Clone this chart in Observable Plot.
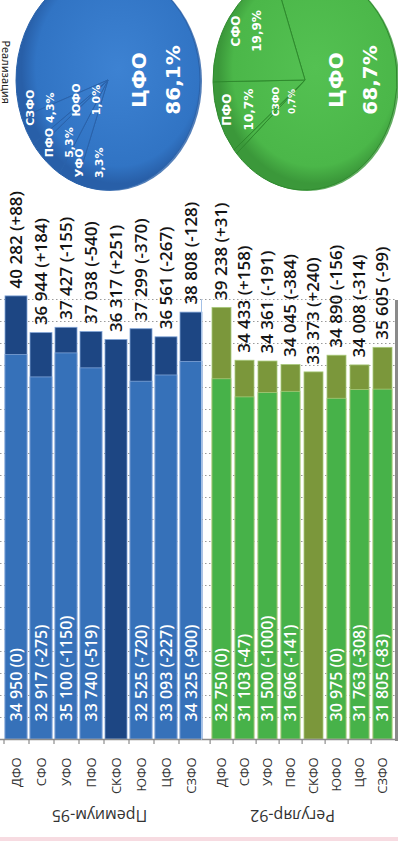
<!DOCTYPE html>
<html><head><meta charset="utf-8">
<script src="https://cdn.jsdelivr.net/npm/d3@7"></script>
<script src="https://cdn.jsdelivr.net/npm/@observablehq/plot@0.6"></script>
<style>
html,body{margin:0;padding:0;background:#fff;}
#root{position:relative;width:398px;height:841px;overflow:hidden;background:#fff;font-family:"Open Sans",sans-serif;}
#root svg{position:absolute;overflow:visible;}
.deco{position:absolute;}
</style></head><body><div id="root"></div>
<script>
// ---------- data ----------
const regions = ["ДФО","СФО","УФО","ПФО","СКФО","ЮФО","ЦФО","СЗФО"];
const premRetail    = [40282, 36944, 37427, 37038, 36317, 37299, 36561, 38808];
const premRetailChg = [88, 184, -155, -540, 251, -370, -267, -128];
const premWhole     = [34950, 32917, 35100, 33740, null, 32525, 33093, 34325];
const premWholeChg  = [0, -275, -1150, -519, null, -720, -227, -900];
const regRetail     = [39238, 34433, 34361, 34045, 33373, 34890, 34008, 35605];
const regRetailChg  = [31, 158, -191, -384, 240, -156, -314, -99];
const regWhole      = [32750, 31103, 31500, 31606, null, 30975, 31763, 31805];
const regWholeChg   = [0, -47, -1000, -141, null, 0, -308, -83];
const groupTitles   = ["Премиум-95", "Регуляр-92"];
const gridTicks     = [2000,4000,6000,8000,10000,12000,14000,16000,18000,20000,22000,24000,26000,28000,30000,32000,34000,36000,38000,40000];
const pieTitle      = "Реализация";
const pieBlueNames  = ["ЦФО","УФО","ПФО","ЮФО","СЗФО"];
const pieBlueShares = [86.1, 3.3, 5.3, 1.0, 4.3];
const pieGreenNames = ["ЦФО","СЗФО","ПФО","СФО"];
const pieGreenShares= [68.7, 0.7, 10.7, 19.9];

// ---------- helpers ----------
const fmtNum = v => d3.format(",")(v).replace(/,/g, " ");
const fmtChg = c => c > 0 ? "+" + c : c < 0 ? "-" + Math.abs(c) : "0";
const fmtPct = v => d3.format(".1f")(v).replace(".", ",") + "%";
const root = document.getElementById("root");
function place(el, left, top) { el.style.left = left + "px"; el.style.top = top + "px"; root.appendChild(el); }
function deco(left, top, w, h, color) {
  const d = document.createElement("div"); d.className = "deco";
  Object.assign(d.style, {left: left+"px", top: top+"px", width: w+"px", height: h+"px", background: color});
  root.appendChild(d);
}

// ---------- pies ----------
const pies = [
  {key: "blue", names: pieBlueNames, shares: pieBlueShares, cx: 108, cy: 80, rx: 92, ry: 110, start: 250,
   base: "#3174c4", light: "#3d82d2", dark: "#285fa8", line: "#2a62aa", smallSize: 11},
  {key: "green", names: pieGreenNames, shares: pieGreenShares, cx: 305, cy: 80, rx: 92, ry: 110, start: 340.7,
   base: "#4bb749", light: "#54c152", dark: "#3b983a", line: "#2f8a2e", smallSize: 12}
];
const pieArcs = pies.map(p => {
  const a0 = p.start * Math.PI / 180;
  const arcs = d3.pie().sort(null).value(d => d.share).startAngle(a0).endAngle(a0 + 2 * Math.PI)
    (p.names.map((n, i) => ({name: n, share: p.shares[i]})));
  return {p, arcs};
});

// spread crowded outer-ring labels so they keep a minimum angular gap
function spread(items, minGap) {
  items.sort((a, b) => a.ang - b.ang);
  for (let it = 0; it < 200; it++) {
    let moved = false;
    for (let i = 1; i < items.length; i++) {
      const gap = items[i].ang - items[i - 1].ang;
      if (gap < minGap - 1e-6) {
        const push = (minGap - gap) / 2;
        items[i - 1].ang -= push; items[i].ang += push; moved = true;
      }
    }
    if (!moved) break;
  }
}

const pieLabels = [];
pieArcs.forEach(({p, arcs}) => {
  const outer = [];
  arcs.forEach(a => {
    const share = a.data.share;
    const big = share > 50;
    const lab = {
      p, share,
      ang: big ? Math.PI / 2 : (a.startAngle + a.endAngle) / 2,   // dominant slice labelled right of centre
      f: big ? 0.52 : share < 2 ? 0.3 : 0.78,
      lines: [a.data.name, fmtPct(share)],
      size: big ? 20 : share < 1 ? 9 : p.smallSize,
      lh: big ? 1.7 : 1.8
    };
    if (!big && share >= 2) outer.push(lab);
    pieLabels.push(lab);
  });
  spread(outer, 28 * Math.PI / 180);
});
pieLabels.forEach(l => {
  l.px = l.p.cx + l.f * l.p.rx * Math.sin(l.ang);
  l.py = l.p.cy - l.f * l.p.ry * Math.cos(l.ang);
});

function pieMark(index, scales) {
  const g = d3.create("svg:g");
  const sx = scales && typeof scales.x === "function" ? scales.x : (v => v);
  const sy = scales && typeof scales.y === "function" ? scales.y : (v => v);
  const defs = g.append("defs");
  pieArcs.forEach(({p, arcs}) => {
    const cx = sx(p.cx), cy = sy(p.cy), k = p.ry / p.rx;
    const id = "pg-" + p.key;
    const rg = defs.append("radialGradient").attr("id", id).attr("gradientUnits", "userSpaceOnUse")
      .attr("cx", 10).attr("cy", -10).attr("r", p.rx * 1.05);
    rg.append("stop").attr("offset", "0%").attr("stop-color", p.light);
    rg.append("stop").attr("offset", "85%").attr("stop-color", p.base);
    rg.append("stop").attr("offset", "100%").attr("stop-color", p.dark);
    g.append("ellipse").attr("cx", cx + 2).attr("cy", cy + 1).attr("rx", p.rx).attr("ry", p.ry)
      .attr("fill", p.dark).attr("opacity", 0.8);
    const gg = g.append("g").attr("transform", `translate(${cx},${cy}) scale(1,${k})`);
    const arc = d3.arc().innerRadius(0).outerRadius(p.rx);
    gg.selectAll("path").data(arcs).join("path")
      .attr("d", arc).attr("fill", `url(#${id})`)
      .attr("stroke", p.line).attr("stroke-width", 1).attr("vector-effect", "non-scaling-stroke");
  });
  pieLabels.forEach(l => {
    const t = g.append("text")
      .attr("transform", `translate(${sx(l.px)},${sy(l.py)}) rotate(-90)`)
      .attr("text-anchor", "middle").attr("fill", "white")
      .attr("font-family", "DejaVu Sans").attr("font-weight", "bold").attr("font-size", l.size);
    l.lines.forEach((s, i) => t.append("tspan").attr("x", 0)
      .attr("y", ((i - (l.lines.length - 1) / 2) * l.lh + 0.35) + "em").text(s));
  });
  return g.node();
}

const piePlot = Plot.plot({
  width: 398, height: 200, margin: 0,
  style: {background: "none", overflow: "visible"},
  x: {domain: [0, 398], range: [0, 398], axis: null},
  y: {domain: [0, 200], range: [0, 200], axis: null},
  marks: [
    Plot.dot(pieLabels, {x: "px", y: "py", r: 0, stroke: "none"}),
    pieMark,
    Plot.text([pieTitle], {frameAnchor: "top-left", rotate: 90, textAnchor: "start", dx: 9.5, dy: 40,
      fill: "#222", fontSize: 11})
  ]
});
place(piePlot, 0, 0);

// ---------- bar panels ----------
function panel(retail, retailChg, whole, wholeChg, title, c, geom) {
  const data = regions.map((region, i) => ({region, retail: retail[i], rChg: retailChg[i], whole: whole[i], wChg: wholeChg[i]}));
  const withWhole = data.filter(d => d.whole != null);
  const step = (geom.range[1] - geom.range[0]) / regions.length;
  return Plot.plot({
    width: geom.width, height: 660, margin: 0,
    style: {background: "none", overflow: "visible", fontFamily: "Open Sans"},
    x: {domain: regions, range: geom.range, paddingInner: geom.pad, paddingOuter: geom.pad / 2, axis: null},
    y: {domain: [0, 40000], range: [559, 119], axis: null},
    marks: [
      Plot.ruleY(gridTicks, {stroke: "#9a9a9a", strokeDasharray: "1.5,2.5", strokeWidth: 1.2}),
      Plot.barY(data, {x: "region", y: "retail", fill: c.dark, stroke: c.edge, strokeWidth: 0.8}),
      Plot.barY(withWhole, {x: "region", y: "whole", fill: c.light, stroke: c.edge, strokeWidth: 0.8}),
      Plot.ruleY([0], {stroke: "#8c8c8c", strokeWidth: 1.5}),
      Plot.ruleX(regions, {x: d => d, y1: 0, y2: -450, dx: -step / 2, stroke: "#8c8c8c", strokeWidth: 1.2}),
      Plot.text(data, {x: "region", y: "retail", text: d => `${fmtNum(d.retail)} (${fmtChg(d.rChg)})`,
        rotate: -90, textAnchor: "start", dy: -8, fill: "#141414", fontSize: 17, fontWeight: 600}),
      Plot.text(withWhole, {x: "region", y: () => 0, text: d => `${fmtNum(d.whole)} (${fmtChg(d.wChg)})`,
        rotate: -90, textAnchor: "start", dy: -18, fill: "white", fontSize: 16, fontWeight: 600}),
      Plot.text(regions, {x: d => d, y: () => 0, text: d => d, rotate: -90, textAnchor: "end", dy: 18,
        fill: "#333", fontSize: 13}),
      Plot.text([title], {frameAnchor: "bottom", rotate: 180, dy: -31, dx: geom.titleDx, fill: "#333", fontSize: 16})
    ]
  });
}

const p1 = panel(premRetail, premRetailChg, premWhole, premWholeChg, groupTitles[0],
  {dark: "#1d4683", light: "#3671b9", edge: "#7fa3d6"}, {width: 201, range: [3, 203], pad: 0.14, titleDx: -1.5});
place(p1, 0, 180);
const p2 = panel(regRetail, regRetailChg, regWhole, regWholeChg, groupTitles[1],
  {dark: "#7b973b", light: "#47b249", edge: "#a8c97a"}, {width: 196, range: [6, 196], pad: 0.16, titleDx: -7});
place(p2, 201, 180);

// panel borders and bottom band
deco(201, 299, 1.2, 441, "#a3c0e6");
deco(395, 300, 3, 441, "#8a8a8a");
deco(0, 837, 398, 4, "#f7dbe1");
</script></body></html>
